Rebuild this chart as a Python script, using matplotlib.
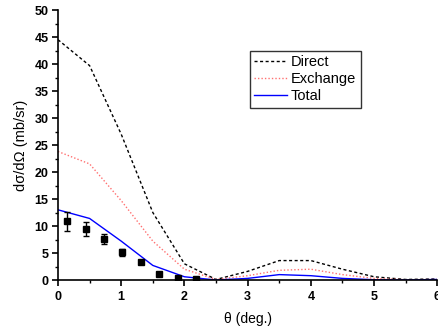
import matplotlib.pyplot as plt
from matplotlib.ticker import MultipleLocator

plt.rcParams['font.family'] = ['Liberation Sans', 'DejaVu Sans']

# calculated curves
theta = [0.0, 0.5, 1.0, 1.5, 2.0, 2.5, 3.0, 3.5, 4.0, 4.5, 5.0, 5.5, 6.0]
direct = [44.5, 39.7, 27.0, 12.5, 3.0, 0.1, 1.6, 3.6, 3.6, 2.0, 0.6, 0.1, 0.2]
exchange = [23.8, 21.5, 14.7, 7.2, 2.0, 0.1, 0.8, 1.8, 2.0, 1.0, 0.3, 0.05, 0.1]
total = [13.0, 11.4, 7.2, 2.7, 0.6, 0.0, 0.3, 1.0, 0.8, 0.3, 0.05, 0.0, 0.1]

# measured points
exp_theta = [0.15, 0.44, 0.73, 1.02, 1.31, 1.60, 1.90, 2.19]
exp_val = [10.9, 9.4, 7.6, 5.1, 3.3, 1.2, 0.4, 0.15]
exp_err = [1.75, 1.3, 1.0, 0.6, 0.4, 0.2, 0.1, 0.1]


def main():
    fig = plt.figure(figsize=(4.38, 3.28), dpi=100)
    ax = fig.add_axes([0.1324, 0.1463, 0.866, 0.8232])

    ax.plot(theta, direct, color='black', linewidth=1, dashes=(2.2, 1.8), label='Direct')
    ax.plot(theta, exchange, color='#ff7070', linewidth=1, linestyle=(0, (1, 1.5)), label='Exchange')
    ax.plot(theta, total, color='blue', linewidth=1, label='Total')
    ax.errorbar(exp_theta, exp_val, yerr=exp_err, fmt='s', color='black', markersize=5,
                capsize=2.4, elinewidth=1, capthick=1)

    ax.set_xlim(0, 6)
    ax.set_ylim(0, 50)
    ax.xaxis.set_major_locator(MultipleLocator(1))
    ax.xaxis.set_minor_locator(MultipleLocator(0.5))
    ax.yaxis.set_major_locator(MultipleLocator(5))
    ax.yaxis.set_minor_locator(MultipleLocator(2.5))
    ax.tick_params(which='major', direction='out', length=4.2, width=1.2, labelsize=9)
    ax.tick_params(axis='x', which='major', pad=3.5)
    ax.tick_params(axis='y', which='major', pad=2.5)
    ax.tick_params(which='minor', direction='out', length=2.4, width=1)
    for lab in ax.get_xticklabels() + ax.get_yticklabels():
        lab.set_fontweight('bold')
    for side in ['top', 'right']:
        ax.spines[side].set_visible(False)
    for side in ['left', 'bottom']:
        ax.spines[side].set_linewidth(1.2)

    ax.set_xlabel('θ (deg.)', fontsize=10, labelpad=7)
    ax.set_ylabel('dσ/dΩ (mb/sr)', fontsize=10.5, labelpad=5)

    leg = ax.legend(loc='upper left', bbox_to_anchor=(0.505, 0.848), fontsize=10.5,
                    frameon=True, fancybox=False, handlelength=2.3, handletextpad=0.25,
                    borderpad=0.3, labelspacing=0.2, borderaxespad=0)
    leg.get_frame().set_edgecolor('black')
    leg.get_frame().set_linewidth(1)

    fig.savefig('out.png', dpi=100)


if __name__ == '__main__':
    main()
